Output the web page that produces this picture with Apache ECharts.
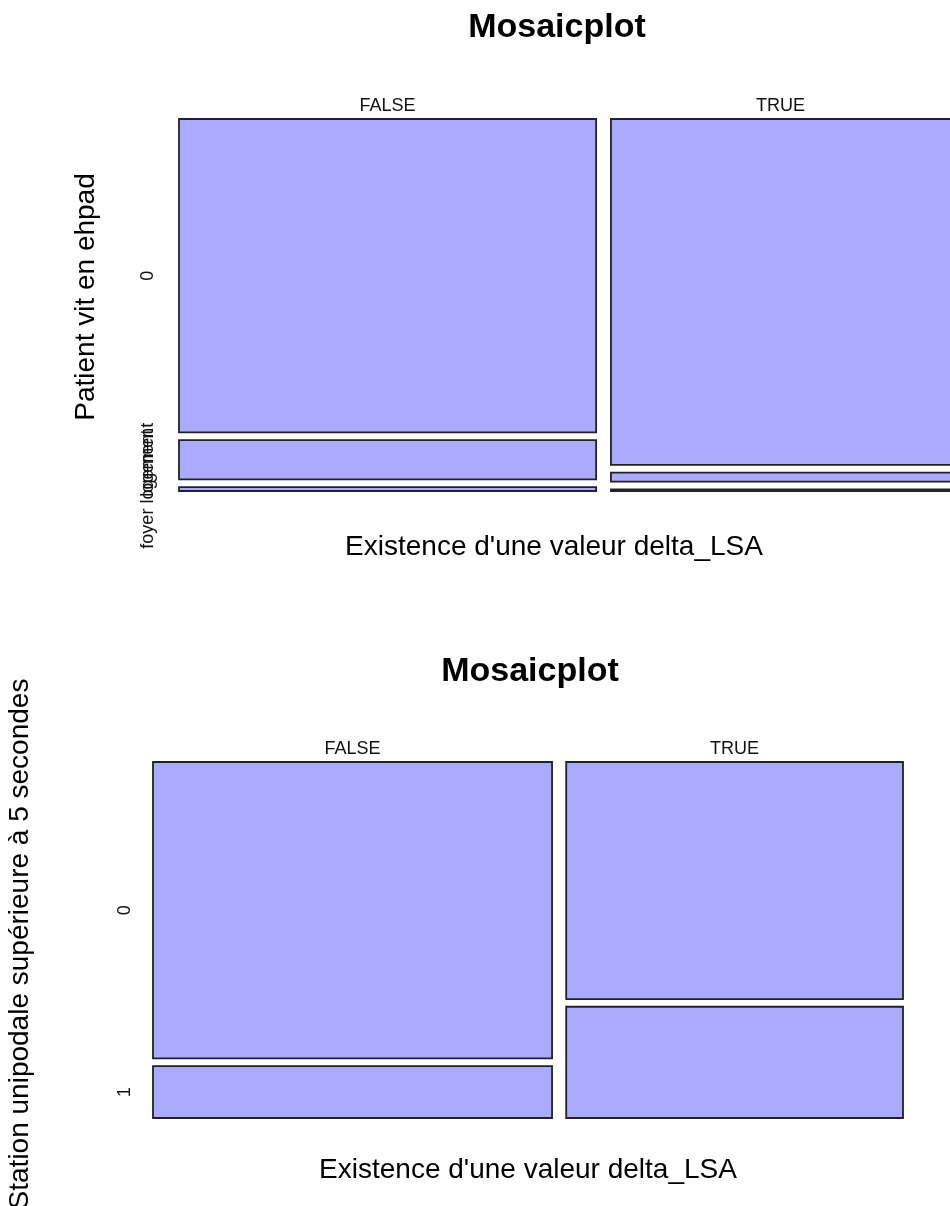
<!DOCTYPE html>
<html><head><meta charset="utf-8">
<script src="https://cdn.jsdelivr.net/npm/echarts@6/dist/echarts.min.js"></script>
<style>html,body{margin:0;padding:0;background:#fff}#c{width:950px;height:1206px}</style>
</head><body><div id="c"></div>
<script>
// ---- data ----
const columnLabels = ['FALSE', 'TRUE'];
const topRowLabels = ['0', 'logement', 'foyer logement'];
const topCountsFalse = [248, 31, 3];
const topCountsTrue = [231, 6, 1];
const bottomRowLabels = ['0', '1'];
const bottomCountsFalse = [240, 42];
const bottomCountsTrue = [162, 76];
const titleText = 'Mosaicplot';
const xTitle = "Existence d'une valeur delta_LSA";
const topYTitle = 'Patient vit en ehpad';
const bottomYTitle = 'Station unipodale supérieure à 5 secondes';

// ---- layout helpers ----
const GAP_X = 10, GAP_Y = 0.022;
const FONT = "'Liberation Sans', Arial, Helvetica, sans-serif";
// the upper mosaic is wider than the page: its full width would be 784px,
// only the first 771px (up to the page edge) are visible
const TOP_FULL_W = 784, TOP_VISIBLE_W = 771;

function buildCells(cols) {
  const cells = []; let x = 0;
  cols.forEach((counts, ci) => {
    const n = counts.reduce((a, b) => a + b, 0);
    let y = 0;
    counts.forEach((c, ri) => {
      const h = c / n;
      cells.push([x, x + n, y, y + h, ci, ri]);
      y += h + GAP_Y;
    });
    x += n + GAP_X;
  });
  return { cells, xMax: x - GAP_X, yMax: 1 + (cols[0].length - 1) * GAP_Y };
}

function makeRender(rowLabels, labelOffsetX) {
  return function (params, api) {
    const x0 = api.value(0), x1 = api.value(1), y0 = api.value(2), y1 = api.value(3);
    const ci = api.value(4), ri = api.value(5);
    const a = api.coord([x0, y0]), b = api.coord([x1, y1]);
    const children = [{
      type: 'rect',
      shape: { x: a[0], y: a[1], width: b[0] - a[0], height: Math.max(b[1] - a[1], 0) },
      style: { fill: '#aaaaff', stroke: '#222222', lineWidth: 1.8 }
    }];
    if (ri === 0) {
      const cx = (a[0] + Math.min(b[0], api.getWidth())) / 2;
      children.push({
        type: 'text', x: cx, y: a[1] - 13,
        style: { x: 0, y: 0, text: columnLabels[ci], align: 'center', verticalAlign: 'middle',
                 fontSize: 18, fontFamily: FONT, fill: '#111' }
      });
    }
    if (ci === 0) {
      children.push({
        type: 'text', x: a[0] - labelOffsetX, y: (a[1] + b[1]) / 2, rotation: Math.PI / 2,
        style: { x: 0, y: 0, text: rowLabels[ri], align: 'center', verticalAlign: 'middle',
                 fontSize: 18, fontFamily: FONT, fill: '#111' }
      });
    }
    return { type: 'group', children };
  };
}

const topM = buildCells([topCountsFalse, topCountsTrue]);
const botM = buildCells([bottomCountsFalse, bottomCountsTrue]);

function txt(x, y, text, size, bold, rot) {
  return {
    type: 'text', x, y, rotation: rot ? Math.PI / 2 : 0,
    style: { x: 0, y: 0, text, align: 'center', verticalAlign: 'middle', fontSize: size,
             fontWeight: bold ? 'bold' : 'normal', fontFamily: FONT, fill: '#000' }
  };
}

const chart = echarts.init(document.getElementById('c'), null, { renderer: 'canvas' });
chart.setOption({
  animation: false,
  backgroundColor: '#ffffff',
  grid: [
    { left: 179, top: 119, width: TOP_VISIBLE_W, height: 372 },
    { left: 153, top: 762, width: 750, height: 356 }
  ],
  xAxis: [
    { type: 'value', gridIndex: 0, min: 0, max: topM.xMax * TOP_VISIBLE_W / TOP_FULL_W, show: false },
    { type: 'value', gridIndex: 1, min: 0, max: botM.xMax, show: false }
  ],
  yAxis: [
    { type: 'value', gridIndex: 0, min: 0, max: topM.yMax, inverse: true, show: false },
    { type: 'value', gridIndex: 1, min: 0, max: botM.yMax, inverse: true, show: false }
  ],
  series: [
    { type: 'custom', xAxisIndex: 0, yAxisIndex: 0, clip: false,
      renderItem: makeRender(topRowLabels, 31), data: topM.cells },
    { type: 'custom', xAxisIndex: 1, yAxisIndex: 1, clip: false,
      renderItem: makeRender(bottomRowLabels, 28), data: botM.cells }
  ],
  graphic: [
    txt(557, 28, titleText, 34, true),
    txt(530, 672, titleText, 34, true),
    txt(554, 547, xTitle, 28, false),
    txt(528, 1170, xTitle, 28, false),
    txt(86, 297, topYTitle, 28, false, true),
    txt(20, 944, bottomYTitle, 28, false, true)
  ]
});
</script>
</body></html>
